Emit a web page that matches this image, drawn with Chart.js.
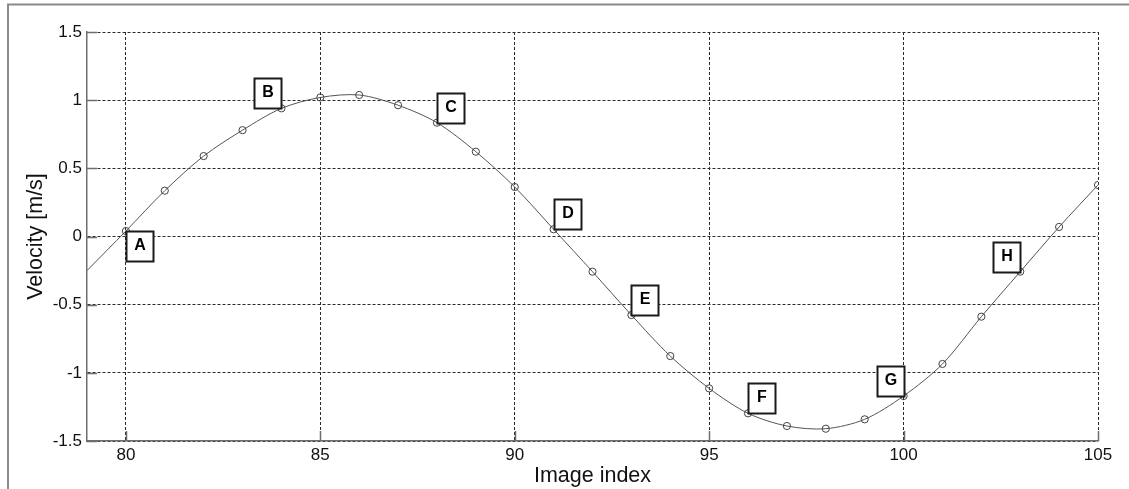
<!DOCTYPE html>
<html>
<head>
<meta charset="utf-8">
<script src="https://cdn.jsdelivr.net/npm/chart.js@4/dist/chart.umd.min.js"></script>
<style>
  html, body { margin: 0; padding: 0; background: #ffffff; }
  #wrap { width: 1129px; height: 489px; }
</style>
</head>
<body>
<div id="wrap"><canvas id="c" width="1129" height="489"></canvas></div>
<script>
// ---- data ----
const imageIndex = [79, 80, 81, 82, 83, 84, 85, 86, 87, 88, 89, 90, 91, 92, 93, 94, 95, 96, 97, 98, 99, 100, 101, 102, 103, 104, 105];
const velocity   = [-0.25, 0.04, 0.336, 0.59, 0.78, 0.94, 1.02, 1.038, 0.963, 0.835, 0.622, 0.363, 0.053, -0.258, -0.576, -0.877, -1.114, -1.297, -1.39, -1.41, -1.341, -1.17, -0.935, -0.588, -0.258, 0.07, 0.378];
const xTicks = [80, 85, 90, 95, 100, 105];
const yTicks = [-1.5, -1, -0.5, 0, 0.5, 1, 1.5];
const markNames = ['A', 'B', 'C', 'D', 'E', 'F', 'G', 'H'];
const markAt    = [80, 84, 88, 91, 93, 96, 100, 103];

// placement of each box relative to its point (layout only)
const markCorner = { A: 'tl', B: 'br', C: 'bl', D: 'bl', E: 'bl', F: 'bl', G: 'br', H: 'br' };

const FONT = "'Liberation Sans', Arial, sans-serif";
const AXIS_COLOR = '#6e6e6e';

const points = imageIndex.map((x, i) => ({ x: x, y: velocity[i] }));

const decorPlugin = {
  id: 'decor',
  beforeDraw(chart) {
    const ctx = chart.ctx;
    ctx.save();
    ctx.fillStyle = '#ffffff';
    ctx.fillRect(0, 0, chart.width, chart.height);
    // outer frame (top and left)
    ctx.strokeStyle = '#8a8a8a';
    ctx.lineWidth = 2;
    ctx.beginPath();
    ctx.moveTo(8, 489);
    ctx.lineTo(8, 4.5);
    ctx.lineTo(1129, 4.5);
    ctx.stroke();
    ctx.restore();
  },
  afterDraw(chart) {
    const ctx = chart.ctx;
    const xs = chart.scales.x, ys = chart.scales.y;
    const area = chart.chartArea;
    ctx.save();
    // inward tick marks
    ctx.strokeStyle = AXIS_COLOR;
    ctx.lineWidth = 1.5;
    ctx.beginPath();
    xTicks.forEach(v => {
      const px = Math.round(xs.getPixelForValue(v)) + 0.5;
      ctx.moveTo(px, area.bottom);
      ctx.lineTo(px, area.bottom - 10);
    });
    yTicks.forEach(v => {
      const py = Math.round(ys.getPixelForValue(v)) + 0.5;
      ctx.moveTo(area.left, py);
      ctx.lineTo(area.left + 10, py);
    });
    ctx.stroke();

    // labelled boxes
    const bw = 27, bh = 30;
    ctx.font = 'bold 16px ' + FONT;
    ctx.textAlign = 'center';
    ctx.textBaseline = 'middle';
    markNames.forEach((name, i) => {
      const idx = imageIndex.indexOf(markAt[i]);
      const px = xs.getPixelForValue(markAt[i]);
      const py = ys.getPixelForValue(velocity[idx]);
      const c = markCorner[name];
      let bx = (c[1] === 'l') ? px : px - bw;
      let by = (c[0] === 't') ? py : py - bh;
      bx = Math.round(bx) + 0.5; by = Math.round(by) + 0.5;
      ctx.fillStyle = '#ffffff';
      ctx.fillRect(bx, by, bw, bh);
      ctx.strokeStyle = '#1a1a1a';
      ctx.lineWidth = 2;
      ctx.strokeRect(bx, by, bw, bh);
      ctx.fillStyle = '#000000';
      ctx.fillText(name, bx + bw / 2, by + bh / 2 - 1);
    });
    ctx.restore();
  }
};

new Chart(document.getElementById('c'), {
  type: 'line',
  data: {
    datasets: [{
      data: points,
      borderColor: '#555555',
      borderWidth: 1,
      tension: 0.3,
      pointRadius: imageIndex.map(x => x < 80 ? 0 : 3.6),
      pointBorderColor: '#444444',
      pointBorderWidth: 1,
      pointBackgroundColor: 'rgba(0,0,0,0)',
      fill: false
    }]
  },
  options: {
    responsive: false,
    animation: false,
    devicePixelRatio: 1,
    layout: { padding: { top: 32, right: 31, left: 0, bottom: 0 } },
    plugins: { legend: { display: false }, tooltip: { enabled: false } },
    scales: {
      x: {
        type: 'linear',
        min: 79, max: 105,
        afterBuildTicks: s => { s.ticks = xTicks.map(v => ({ value: v })); },
        afterFit: s => { s.height = 48; },
        ticks: { color: '#111111', font: { family: FONT, size: 17 }, padding: 4, maxRotation: 0, callback: v => String(v) },
        grid: { color: '#2a2a2a', lineWidth: 1, drawTicks: false },
        border: { display: true, color: AXIS_COLOR, width: 1.5, dash: [3, 2] },
        title: { display: true, text: 'Image index', color: '#111111', font: { family: FONT, size: 21.5 }, padding: { top: 0, bottom: 0 } }
      },
      y: {
        type: 'linear',
        min: -1.5, max: 1.5,
        afterBuildTicks: s => { s.ticks = yTicks.map(v => ({ value: v })); },
        afterFit: s => { s.width = 87; },
        ticks: { color: '#111111', font: { family: FONT, size: 17 }, padding: 5, callback: v => String(v) },
        grid: { color: '#2a2a2a', lineWidth: 1, drawTicks: false },
        border: { display: true, color: AXIS_COLOR, width: 1.5, dash: [3, 2] },
        title: { display: true, text: 'Velocity [m/s]', color: '#111111', font: { family: FONT, size: 21.5 }, padding: { top: 23, bottom: 0 } }
      }
    }
  },
  plugins: [decorPlugin]
});
</script>
</body>
</html>
